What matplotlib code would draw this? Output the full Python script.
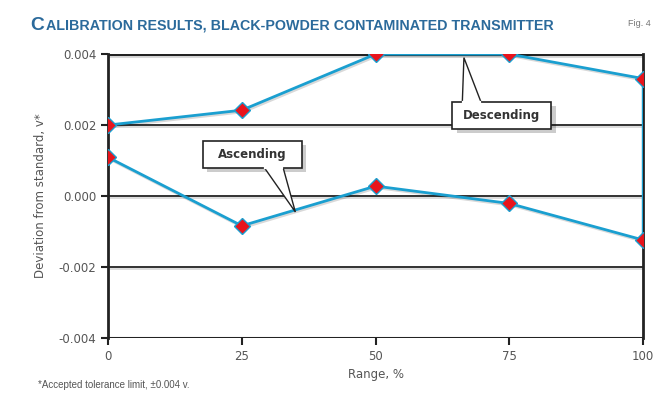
import matplotlib
matplotlib.use("Agg")
import matplotlib.pyplot as plt
from matplotlib.patches import FancyBboxPatch, Polygon
import matplotlib.patheffects as pe
from matplotlib import font_manager

range_pct = [0, 25, 50, 75, 100]
ascending = [0.00109, -0.00084, 0.00028, -0.00021, -0.00124]
descending = [0.0020, 0.00242, 0.0040, 0.0040, 0.00331]
y_ticks = [-0.004, -0.002, 0.000, 0.002, 0.004]
x_ticks = [0, 25, 50, 75, 100]

names = {f.name for f in font_manager.fontManager.ttflist}
if "Liberation Sans Narrow" in names:
    narrow = "Liberation Sans Narrow"
elif "Liberation Sans" in names:
    narrow = "Liberation Sans"
else:
    narrow = "DejaVu Sans"

fig = plt.figure(figsize=(6.59, 3.98), dpi=100)
ax = fig.add_axes([0.164, 0.151, 0.812, 0.713])

line_c = "#1a9fd0"
gray = "#555555"

# single path: ascending 0->100, then descending 100->0
px = range_pct + range_pct[::-1]
py = ascending + descending[::-1]
shadow = [pe.SimpleLineShadow(offset=(1.0, -1.2), alpha=0.15), pe.Normal()]
for yv in y_ticks:
    lw = 2.2 if abs(yv) == 0.004 else 1.3
    ax.axhline(yv, color="#222222", lw=lw, zorder=1, path_effects=shadow)
ax.plot(px, py, color=line_c, lw=2.0, zorder=3, path_effects=shadow)
ax.plot(range_pct, ascending, ls="none", marker="D", ms=8, mfc="#e8141c", mec=line_c, mew=1.0, zorder=4)
ax.plot(range_pct, descending, ls="none", marker="D", ms=8, mfc="#e8141c", mec=line_c, mew=1.0, zorder=4)

ax.set_xlim(0, 100)
ax.set_ylim(-0.004, 0.004)
ax.set_xticks(x_ticks)
ax.set_xticklabels([str(v) for v in x_ticks])
ax.set_yticks(y_ticks)
ax.set_yticklabels([f"{v:.3f}" for v in y_ticks])
for s in ["top", "bottom"]:
    ax.spines[s].set_visible(False)
ax.spines["left"].set_color("#222222")
ax.spines["left"].set_linewidth(2.0)
ax.spines["right"].set_color("#222222")
ax.spines["right"].set_linewidth(2.0)
ax.tick_params(axis="both", colors="#222222", labelcolor=gray, labelsize=8.5, width=1.5, length=5)
ax.tick_params(axis="x", direction="out")
ax.set_xlabel("Range, %", color=gray, fontsize=8.5, labelpad=4)
ax.set_ylabel("Deviation from standard, v*", color=gray, fontsize=8.5, labelpad=8)


def callout(text, box_xy, tip, base_frac, up):
    bx, by = box_xy
    w, h = 18.5, 0.00075
    sh = FancyBboxPatch((bx - w / 2 + 0.8, by - h / 2 - 0.00012), w, h, boxstyle="square,pad=0",
                        fc="#000000", ec="none", alpha=0.2, zorder=5)
    ax.add_patch(sh)
    edge_y = by + h / 2 if up else by - h / 2
    b0 = bx - w / 2 + base_frac * w
    wedge = Polygon([(b0, edge_y), (b0 + 3.5, edge_y), tip], closed=True, fc="white", ec="#222222", lw=1.0, zorder=6)
    ax.add_patch(wedge)
    box = FancyBboxPatch((bx - w / 2, by - h / 2), w, h, boxstyle="square,pad=0",
                         fc="white", ec="#222222", lw=1.2, zorder=7)
    ax.add_patch(box)
    ax.plot([b0 + 0.15, b0 + 3.35], [edge_y, edge_y], color="white", lw=1.6, zorder=8)
    ax.text(bx, by, text, ha="center", va="center", fontsize=8.5, fontweight="bold",
            color="#333333", zorder=9)


callout("Ascending", (27.0, 0.00117), (35.0, -0.00045), 0.62, False)
callout("Descending", (73.6, 0.00227), (66.5, 0.0039), 0.10, True)

# title (small caps effect), sized to fit reference width
tc = "#2b6a9b"
t1 = fig.text(0.045, 0.925, "C", fontsize=21, fontweight="bold", color=tc, family=narrow,
              fontstretch="condensed", ha="left", va="baseline")
t2 = fig.text(0.083, 0.925, "ALIBRATION RESULTS, BLACK-POWDER CONTAMINATED TRANSMITTER", fontsize=15.5,
              fontweight="bold", color=tc, family=narrow, fontstretch="condensed", ha="left", va="baseline")
fig.canvas.draw()
r = fig.canvas.get_renderer()
w1 = t1.get_window_extent(r).width
w2 = t2.get_window_extent(r).width
target = 548 - 30
scale = min(1.0, target / (w1 + w2 + 3))
t1.set_fontsize(21 * scale)
t2.set_fontsize(15.5 * scale)
fig.canvas.draw()
w1 = t1.get_window_extent(r).width
t2.set_x((30 + w1 + 2) / fig.bbox.width)
t1.set_x(30 / fig.bbox.width)

fig.text(0.953, 0.935, "Fig. 4", fontsize=6.5, color="#777777", family=narrow, fontstretch="condensed",
         ha="left", va="baseline")
fig.text(0.058, 0.025, "*Accepted tolerance limit, \u00b10.004 v.", fontsize=7, color=gray, family=narrow,
         fontstretch="condensed", ha="left", va="baseline")

fig.savefig("out.png", dpi=100)
